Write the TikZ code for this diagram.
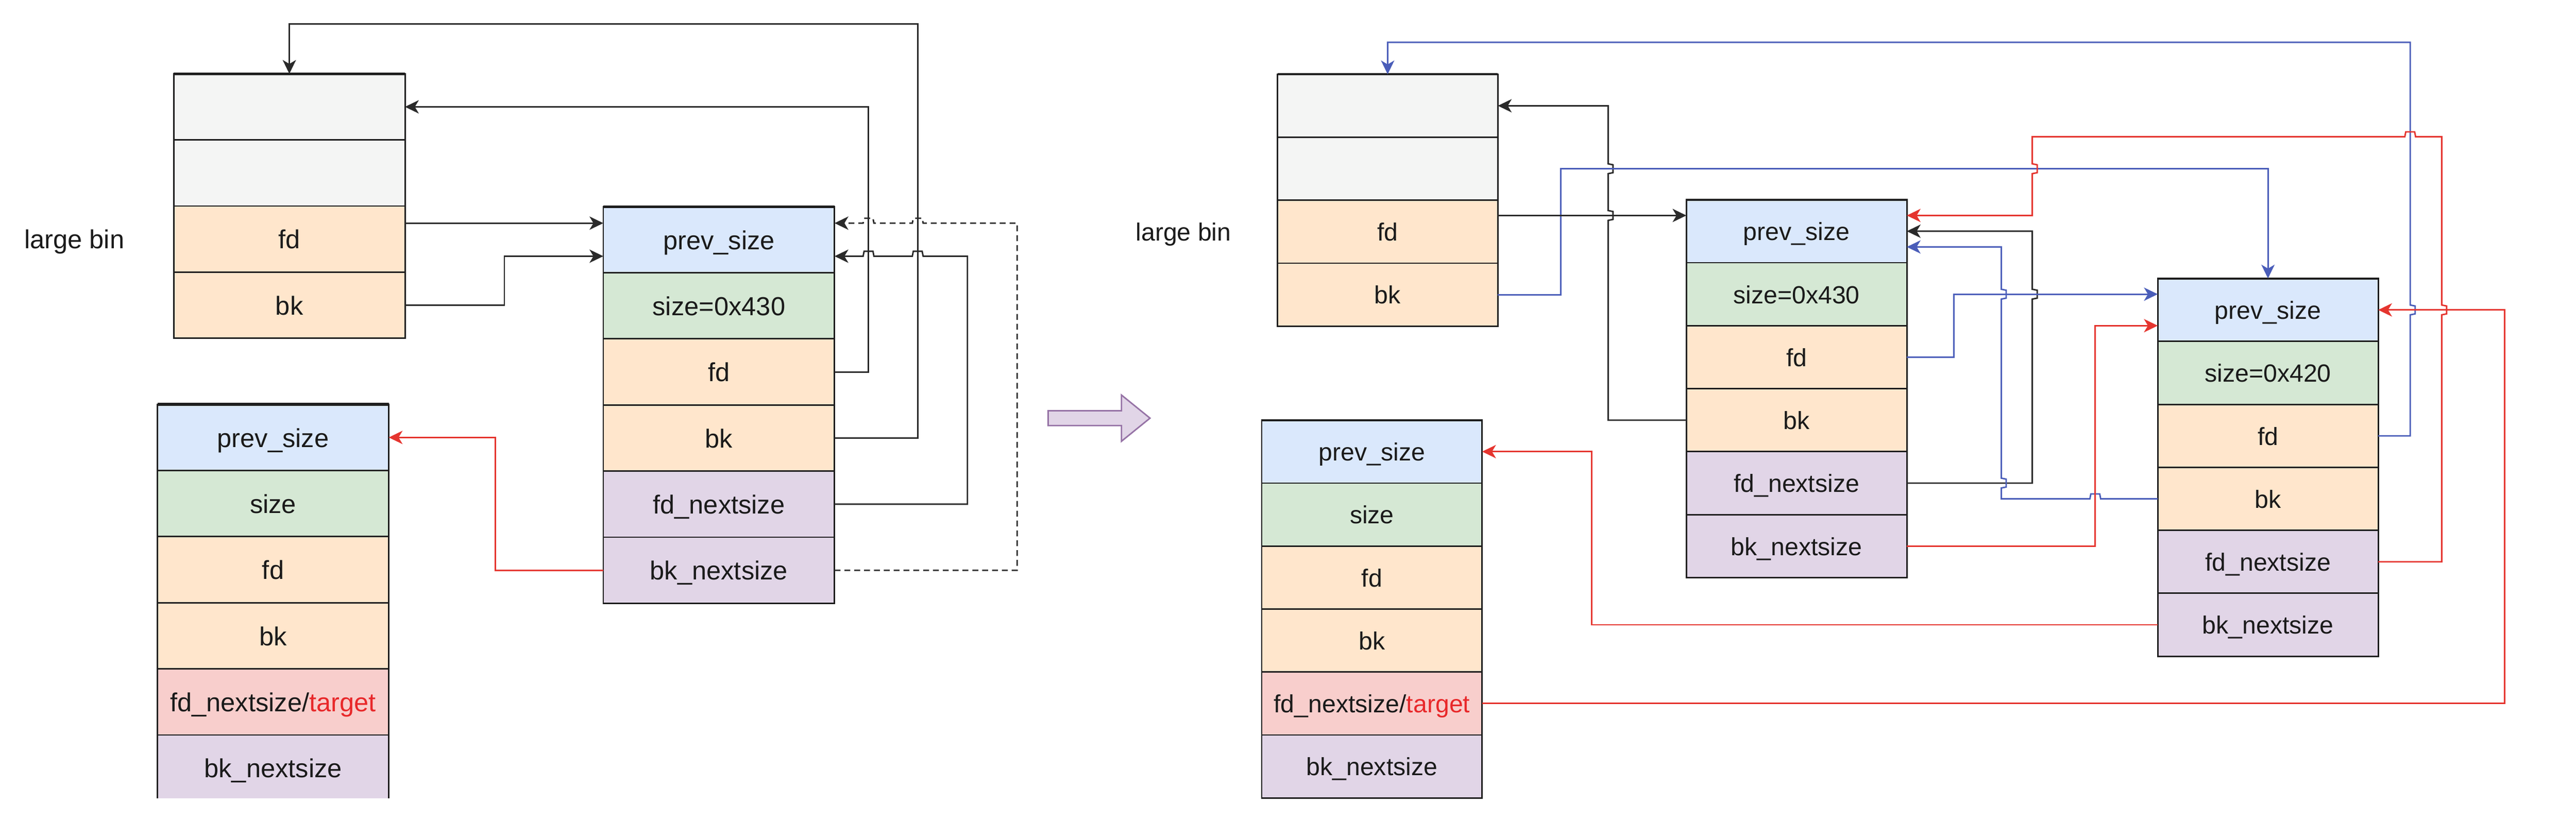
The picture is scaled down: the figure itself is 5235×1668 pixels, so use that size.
\documentclass[tikz,border=0pt]{standalone}
\usepackage{fontspec}
\setmainfont{Liberation Sans}
\usetikzlibrary{arrows.meta,calc}
\definecolor{cgray}{HTML}{F4F5F4}
\definecolor{cblue}{HTML}{DAE8FC}
\definecolor{cgreen}{HTML}{D5E8D4}
\definecolor{corange}{HTML}{FFE6CC}
\definecolor{cpurple}{HTML}{E1D5E7}
\definecolor{cpink}{HTML}{F8CECC}
\definecolor{bordc}{HTML}{1E1E1E}
\definecolor{txtc}{HTML}{1A1A1A}
\definecolor{ek}{HTML}{2A2A2A}
\definecolor{eb}{HTML}{4A5DB9}
\definecolor{er}{HTML}{E5352F}
\definecolor{tred}{HTML}{E8282A}
\definecolor{parrowc}{HTML}{9673A6}
% jumps: vertical going up / down (bump to the right), horizontal going left (bump up)
\newcommand\jvu[2]{-- (#1,#2+10) -- (#1+10,#2+8) -- (#1+10,#2-8) -- (#1,#2-10)}
\newcommand\jvd[2]{-- (#1,#2-10) -- (#1+10,#2-8) -- (#1+10,#2+8) -- (#1,#2+10)}
\newcommand\jhl[2]{-- (#1+11,#2) -- (#1+9,#2-10) -- (#1-9,#2-10) -- (#1-11,#2)}
\tikzset{
  cbase/.style={draw=bordc, line width=0.6pt, inner sep=0pt, outer sep=0pt, text=txtc},
  cL/.style={cbase, minimum width=94pt, minimum height=26.88pt,
    font=\fontsize{10.6pt}{12pt}\selectfont, text height=9.54pt, text depth=1.7pt},
  cR/.style={cbase, minimum width=89.6pt, minimum height=25.6pt,
    font=\fontsize{10.1pt}{12pt}\selectfont, text height=9.09pt, text depth=1.62pt},
  lblL/.style={inner sep=0pt, text=txtc, font=\fontsize{10.6pt}{12pt}\selectfont, text height=9.54pt, text depth=1.7pt},
  lblR/.style={inner sep=0pt, text=txtc, font=\fontsize{10.1pt}{12pt}\selectfont, text height=9.09pt, text depth=1.62pt},
  topL/.style={draw=bordc, line width=1.1pt},
  topR/.style={draw=bordc, line width=0.8pt},
  edge/.style={line width=0.6pt, -{Stealth[length=5.6pt,width=5.4pt,inset=1.6pt]}},
  dedge/.style={edge, dash pattern=on 2.4pt off 1.6pt},
}
\begin{document}
\begin{tikzpicture}[x=0.2pt,y=-0.2pt]
\useasboundingbox (0,0) rectangle (5235,1668);

% ---------------- LEFT ----------------
\node[cL,fill=cgray,anchor=north west] (LB1) at (353,150) {};
\node[cL,fill=cgray,anchor=north] (LB2) at (LB1.south) {};
\node[cL,fill=corange,anchor=north] (LB3) at (LB2.south) {fd};
\node[cL,fill=corange,anchor=north] (LB4) at (LB3.south) {bk};
\draw[topL] (LB1.north west) -- (LB1.north east);
\node[lblL] (lbL) at (151,486) {large bin};

\node[cL,fill=cblue,anchor=north west] (M1) at (1226,420) {prev\_size};
\node[cL,fill=cgreen,anchor=north] (M2) at (M1.south) {size=0x430};
\node[cL,fill=corange,anchor=north] (M3) at (M2.south) {fd};
\node[cL,fill=corange,anchor=north] (M4) at (M3.south) {bk};
\node[cL,fill=cpurple,anchor=north] (M5) at (M4.south) {fd\_nextsize};
\node[cL,fill=cpurple,anchor=north] (M6) at (M5.south) {bk\_nextsize};
\draw[topL] (M1.north west) -- (M1.north east);

\begin{scope}
\clip (0,0) rectangle (5235,1622);
\node[cL,fill=cblue,anchor=north west] (T1) at (320,822) {prev\_size};
\node[cL,fill=cgreen,anchor=north] (T2) at (T1.south) {size};
\node[cL,fill=corange,anchor=north] (T3) at (T2.south) {fd};
\node[cL,fill=corange,anchor=north] (T4) at (T3.south) {bk};
\node[cL,fill=cpink,anchor=north] (T5) at (T4.south) {fd\_nextsize/\textcolor{tred}{target}};
\node[cL,fill=cpurple,anchor=north] (T6) at (T5.south) {bk\_nextsize};
\draw[topL] (T1.north west) -- (T1.north east);
\end{scope}

\coordinate (M1nw) at ($(M1.west)!0.5!(M1.north west)$);
\coordinate (M1sw) at ($(M1.west)!0.5!(M1.south west)$);
\coordinate (M1ne) at ($(M1.east)!0.5!(M1.north east)$);
\coordinate (M1se) at ($(M1.east)!0.5!(M1.south east)$);

\draw[edge,ek] (M4.east) -| (1865,49) -| (LB1.north);
\draw[edge,ek] (M3.east) -- ++(69,0) |- (LB1.east);
\draw[edge,ek] (LB3.east |- M1nw) -- (M1nw);
\draw[edge,ek] (LB4.east) -- ++(202,0) |- (M1sw);
\draw[edge,ek] (M5.east) -- ++(270,0) -- (1966,520.8) \jhl{1865}{520.8} \jhl{1765}{520.8} -- (M1se);
\draw[dedge,ek] (M6.east) -- ++(371,0) -- (2067,453.6) \jhl{1865}{453.6} \jhl{1765}{453.6} -- (M1ne);
\draw[edge,er] (M6.west) -- ++(-219,0) |- (T1.east);

% transition arrow
\draw[draw=parrowc, fill=cpurple, line width=0.6pt]
  (2130,835) -- (2279,835) -- (2279,803) -- (2337,850) -- (2279,897) -- (2279,865) -- (2130,865) -- cycle;

% ---------------- RIGHT ----------------
\node[cR,fill=cgray,anchor=north west] (RB1) at (2596,151) {};
\node[cR,fill=cgray,anchor=north] (RB2) at (RB1.south) {};
\node[cR,fill=corange,anchor=north] (RB3) at (RB2.south) {fd};
\node[cR,fill=corange,anchor=north] (RB4) at (RB3.south) {bk};
\draw[topR] (RB1.north west) -- (RB1.north east);
\node[lblR] (lbR) at (2405,471) {large bin};

\node[cR,fill=cblue,anchor=north west] (C2a) at (3427,406) {prev\_size};
\node[cR,fill=cgreen,anchor=north] (C2b) at (C2a.south) {size=0x430};
\node[cR,fill=corange,anchor=north] (C2c) at (C2b.south) {fd};
\node[cR,fill=corange,anchor=north] (C2d) at (C2c.south) {bk};
\node[cR,fill=cpurple,anchor=north] (C2e) at (C2d.south) {fd\_nextsize};
\node[cR,fill=cpurple,anchor=north] (C2f) at (C2e.south) {bk\_nextsize};
\draw[topR] (C2a.north west) -- (C2a.north east);

\node[cR,fill=cblue,anchor=north west] (C3a) at (4385,566) {prev\_size};
\node[cR,fill=cgreen,anchor=north] (C3b) at (C3a.south) {size=0x420};
\node[cR,fill=corange,anchor=north] (C3c) at (C3b.south) {fd};
\node[cR,fill=corange,anchor=north] (C3d) at (C3c.south) {bk};
\node[cR,fill=cpurple,anchor=north] (C3e) at (C3d.south) {fd\_nextsize};
\node[cR,fill=cpurple,anchor=north] (C3f) at (C3e.south) {bk\_nextsize};
\draw[topR] (C3a.north west) -- (C3a.north east);

\node[cR,fill=cblue,anchor=north west] (B1) at (2564,854) {prev\_size};
\node[cR,fill=cgreen,anchor=north] (B2) at (B1.south) {size};
\node[cR,fill=corange,anchor=north] (B3) at (B2.south) {fd};
\node[cR,fill=corange,anchor=north] (B4) at (B3.south) {bk};
\node[cR,fill=cpink,anchor=north] (B5) at (B4.south) {fd\_nextsize/\textcolor{tred}{target}};
\node[cR,fill=cpurple,anchor=north] (B6) at (B5.south) {bk\_nextsize};
\draw[topR] (B1.north west) -- (B1.north east);

\coordinate (C2nw) at ($(C2a.west)!0.5!(C2a.north west)$);
\coordinate (C2ne) at ($(C2a.east)!0.5!(C2a.north east)$);
\coordinate (C2se) at ($(C2a.east)!0.5!(C2a.south east)$);
\coordinate (C3nw) at ($(C3a.west)!0.5!(C3a.north west)$);
\coordinate (C3sw) at ($(C3a.west)!0.5!(C3a.south west)$);

% blue: chunk3 fd -> large bin
\draw[edge,eb] (C3c.east) -- ++(65,0) \jvu{4898}{630} -- (4898,86) -| (RB1.north);
% black: chunk2 bk -> large bin
\draw[edge,ek] (C2d.west) -- ++(-159,0) \jvu{3268}{438} \jvu{3268}{343} |- (RB1.east);
% blue: large bin bk -> chunk3
\draw[edge,eb] (RB4.east) -| (3172,343) -| (C3a.north);
% black: large bin fd -> chunk2
\draw[edge,ek] (RB3.east |- C2nw) -- (C2nw);
% red: chunk3 fd_nextsize -> chunk2
\draw[edge,er] (C3e.east) -- ++(129,0) \jvu{4962}{630} -- (4962,278) \jhl{4898}{278} -- (4130,278) \jvd{4130}{343} |- (C2ne);
% black: chunk2 fd_nextsize -> chunk2
\draw[edge,ek] (C2e.east) -- ++(255,0) \jvu{4130}{598} |- (C2a.east);
% blue: chunk3 bk -> chunk2
\draw[edge,eb] (C3d.west) \jhl{4258}{1014} -- (4067,1014) \jvu{4067}{982} \jvu{4067}{598} |- (C2se);
% blue: chunk2 fd -> chunk3
\draw[edge,eb] (C2c.east) -- ++(96,0) |- (C3nw);
% red: chunk2 bk_nextsize -> chunk3
\draw[edge,er] (C2f.east) -- ++(383,0) |- (C3sw);
% red: chunk3 bk_nextsize -> target chunk
\draw[edge,er] (C3f.west) -- ++(-1150,0) |- (B1.east);
% red: target -> chunk3
\draw[edge,er] (B5.east) -- ++(2078,0) |- (C3a.east);
\end{tikzpicture}
\end{document}
